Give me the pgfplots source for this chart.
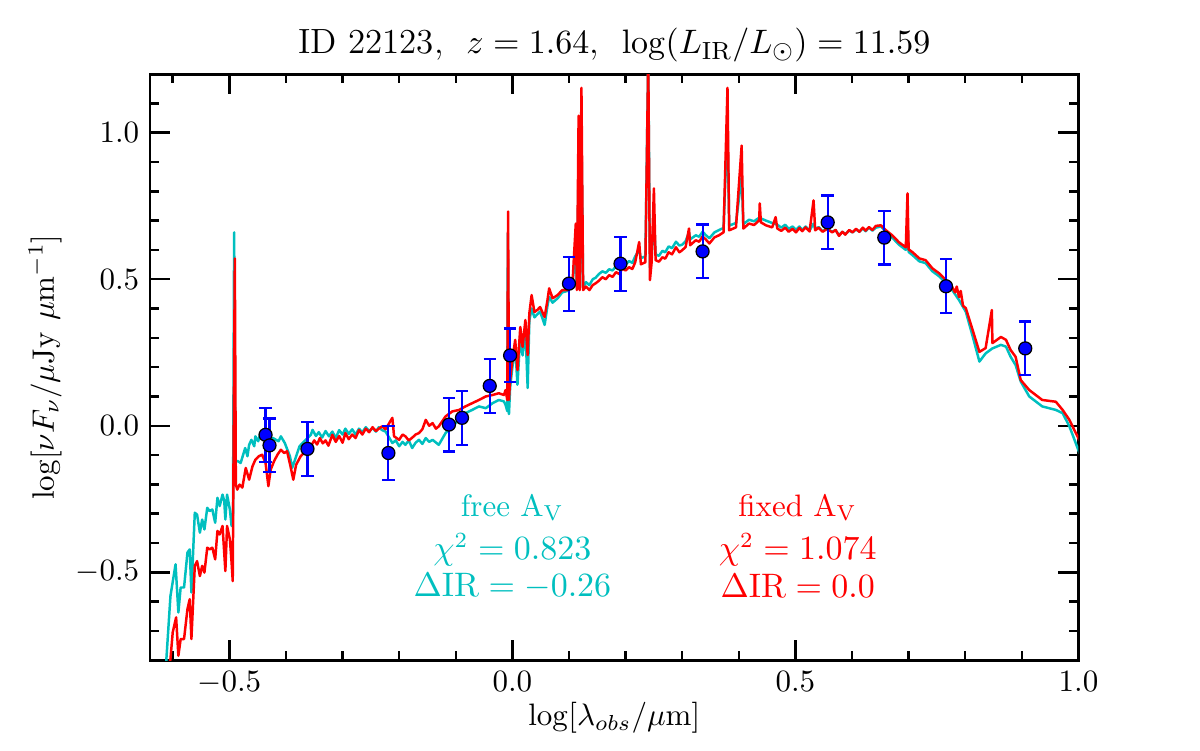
\documentclass[border=0pt]{standalone}
\usepackage{pgfplots}
\pgfplotsset{compat=1.18}
\definecolor{mplc}{rgb}{0,0.75,0.75}
\begin{document}
\begin{tikzpicture}
\useasboundingbox (0,0) rectangle (387pt,241.9pt);
\begin{axis}[
  at={(48.4pt,29pt)}, anchor=south west,
  scale only axis, width=299.4pt, height=189pt,
  xmin=-0.64, xmax=1.0, ymin=-0.8, ymax=1.2,
  xtick={-0.5,0,0.5,1}, ytick={-0.5,0,0.5,1},
  minor xtick={-0.6,-0.4,-0.3,-0.2,-0.1,0.1,0.2,0.3,0.4,0.6,0.7,0.8,0.9},
  minor ytick={-0.7,-0.6,-0.4,-0.3,-0.2,-0.1,0.1,0.2,0.3,0.4,0.6,0.7,0.8,0.9,1.1},
  tick align=inside, major tick length=6.5pt, minor tick length=3pt,
  every tick/.style={black, line width=0.8pt},
  axis line style={line width=0.9pt},
  xticklabel style={/pgf/number format/.cd, fixed, fixed zerofill, precision=1},
  yticklabel style={/pgf/number format/.cd, fixed, fixed zerofill, precision=1},
  title={ID 22123, \ $z=1.64$, \ $\log(L_{\rm IR}/L_{\odot}) = 11.59$},
  every axis title/.style={at={(axis description cs:0.5,1.049)}, anchor=center, font=\fontsize{11.3}{13.5}\selectfont},
  xlabel={$\log[\lambda_{obs}/\mu{\rm m}]$},
  xlabel style={at={(axis description cs:0.5,-0.099)}, anchor=center},
  ylabel={$\log[\nu F_\nu/\mu{\rm Jy}\ \mu{\rm m}^{-1}]$},
  ylabel style={at={(axis description cs:-0.113,0.5)}, anchor=center, font=\fontsize{10.4}{12}\selectfont},
  clip=true,
]
% free A_V (cyan)
\addplot[mplc, line width=0.8pt, line join=round] coordinates {
(-0.613,-0.85) (-0.604,-0.581) (-0.595,-0.473) (-0.590,-0.637) (-0.586,-0.552) (-0.580,-0.552)
(-0.574,-0.433) (-0.570,-0.422) (-0.567,-0.569) (-0.561,-0.297) (-0.557,-0.303) (-0.552,-0.365)
(-0.548,-0.320) (-0.544,-0.354) (-0.539,-0.280) (-0.535,-0.291) (-0.530,-0.286) (-0.525,-0.331)
(-0.521,-0.246) (-0.517,-0.274) (-0.512,-0.235) (-0.509,-0.257) (-0.507,-0.320) (-0.504,-0.235)
(-0.499,-0.286) (-0.496,-0.342) (-0.4935,-0.30) (-0.4915,0.66) (-0.4895,-0.12)
(-0.485,-0.121) (-0.480,-0.127) (-0.472,-0.076) (-0.468,-0.104) (-0.465,-0.065) (-0.461,-0.048)
(-0.456,-0.070) (-0.454,-0.036) (-0.449,-0.053) (-0.445,-0.025) (-0.436,-0.048) (-0.431,-0.065)
(-0.427,-0.070) (-0.423,-0.042) (-0.413,-0.053) (-0.409,-0.036) (-0.402,-0.059) (-0.393,-0.104)
(-0.389,-0.144) (-0.384,-0.116) (-0.376,-0.070) (-0.365,-0.048) (-0.356,-0.031) (-0.353,-0.014)
(-0.347,-0.035) (-0.342,-0.022) (-0.336,-0.040) (-0.330,-0.018) (-0.324,-0.036) (-0.318,-0.020)
(-0.312,-0.042) (-0.306,-0.015) (-0.300,-0.030) (-0.295,-0.010) (-0.289,-0.028) (-0.283,-0.012)
(-0.277,-0.030) (-0.271,-0.010) (-0.265,-0.022) (-0.259,-0.005) (-0.253,-0.018) (-0.247,-0.008)
(-0.241,-0.020) (-0.236,-0.005) (-0.230,-0.015) (-0.224,-0.020) (-0.212,-0.059)
(-0.206,-0.050) (-0.200,-0.070) (-0.194,-0.055) (-0.189,-0.065) (-0.183,-0.050) (-0.177,-0.076)
(-0.171,-0.058) (-0.165,-0.048) (-0.159,-0.062) (-0.153,-0.042) (-0.147,-0.055) (-0.141,-0.048)
(-0.130,-0.065) (-0.118,-0.025) (-0.106,0.000) (-0.094,0.020) (-0.083,0.043) (-0.071,0.054)
(-0.059,0.066) (-0.047,0.060) (-0.035,0.077) (-0.024,0.088) (-0.015,0.083) (-0.012,0.071)
(-0.009,0.050) (-0.008,0.657) (-0.006,0.04) (-0.004,0.13) (0.000,0.20) (0.005,0.27)
(0.009,0.14) (0.014,0.31) (0.018,0.24) (0.023,0.33) (0.027,0.129) (0.030,0.36) (0.034,0.40)
(0.039,0.37) (0.044,0.38) (0.049,0.39) (0.057,0.344) (0.062,0.41) (0.065,0.44) (0.071,0.42)
(0.080,0.435) (0.088,0.455) (0.097,0.46) (0.106,0.48) (0.112,0.60) (0.114,0.47) (0.117,0.90)
(0.119,0.47) (0.122,1.0) (0.125,0.47) (0.130,0.49) (0.136,0.48) (0.142,0.50) (0.147,0.505)
(0.153,0.518) (0.159,0.527) (0.165,0.522) (0.171,0.534) (0.177,0.530)
(0.183,0.544) (0.189,0.540) (0.194,0.557) (0.200,0.550) (0.206,0.562) (0.212,0.556) (0.217,0.578) (0.224,0.60) (0.227,0.572) (0.235,0.578)
(0.240,1.26) (0.243,0.54) (0.246,0.578) (0.250,0.72) (0.253,0.585) (0.259,0.580) (0.265,0.597) (0.270,0.592) (0.276,0.612)
(0.282,0.606) (0.289,0.628) (0.295,0.615) (0.300,0.618) (0.306,0.630) (0.312,0.66) (0.314,0.636) (0.324,0.650) (0.330,0.645) (0.336,0.662) (0.342,0.650) (0.348,0.640)
(0.357,0.660) (0.365,0.668) (0.373,0.675) (0.380,1.03) (0.383,0.683) (0.395,0.692) (0.405,0.85)
(0.408,0.688) (0.418,0.703) (0.427,0.698) (0.436,0.710) (0.448,0.700) (0.459,0.692)
(0.468,0.686) (0.475,0.676) (0.482,0.686) (0.488,0.672) (0.495,0.680) (0.501,0.668) (0.507,0.680)
(0.512,0.668) (0.518,0.680) (0.525,0.666) (0.532,0.690) (0.535,0.670) (0.541,0.678) (0.548,0.664)
(0.556,0.672) (0.565,0.662) (0.571,0.668) (0.577,0.650) (0.583,0.662) (0.588,0.654) (0.595,0.666)
(0.601,0.660) (0.607,0.670) (0.613,0.662) (0.619,0.674) (0.624,0.664) (0.630,0.676) (0.636,0.666)
(0.642,0.676) (0.651,0.680) (0.660,0.662)
(0.671,0.642) (0.683,0.618) (0.695,0.600) (0.698,0.70) (0.700,0.593) (0.707,0.582) (0.719,0.561)
(0.730,0.555) (0.742,0.527) (0.754,0.510) (0.766,0.487) (0.777,0.463) (0.789,0.429) (0.801,0.389)
(0.813,0.306) (0.825,0.219) (0.836,0.247) (0.848,0.264) (0.863,0.276) (0.872,0.270) (0.880,0.236)
(0.889,0.207) (0.898,0.151) (0.913,0.100) (0.936,0.066) (0.960,0.054) (0.972,0.043) (0.984,-0.002)
(1.007,-0.12)
};
% fixed A_V (red)
\addplot[red, line width=0.8pt, line join=round] coordinates {
(-0.612,-0.90) (-0.604,-0.796) (-0.600,-0.705) (-0.594,-0.654) (-0.590,-0.785) (-0.586,-0.728)
(-0.580,-0.728) (-0.574,-0.626) (-0.570,-0.592) (-0.567,-0.728) (-0.561,-0.478) (-0.557,-0.462)
(-0.552,-0.513) (-0.548,-0.478) (-0.544,-0.501) (-0.539,-0.416) (-0.535,-0.422) (-0.530,-0.416)
(-0.525,-0.456) (-0.521,-0.359) (-0.517,-0.371) (-0.512,-0.342) (-0.507,-0.496) (-0.504,-0.342)
(-0.499,-0.388) (-0.496,-0.467) (-0.494,-0.530) (-0.4903,0.571) (-0.4885,-0.20)
(-0.486,-0.218) (-0.482,-0.201) (-0.477,-0.211) (-0.471,-0.144) (-0.465,-0.184) (-0.459,-0.138)
(-0.454,-0.116) (-0.448,-0.104) (-0.442,-0.099) (-0.436,-0.127) (-0.431,-0.206) (-0.427,-0.150)
(-0.421,-0.121) (-0.415,-0.099) (-0.409,-0.082) (-0.403,-0.093) (-0.398,-0.087) (-0.392,-0.138)
(-0.387,-0.184) (-0.382,-0.133) (-0.374,-0.104) (-0.365,-0.087) (-0.356,-0.070)
(-0.350,-0.050) (-0.345,-0.064) (-0.340,-0.042) (-0.335,-0.060) (-0.330,-0.050) (-0.325,-0.068)
(-0.318,-0.031) (-0.312,-0.055) (-0.306,-0.035) (-0.300,-0.058) (-0.295,-0.025) (-0.289,-0.046)
(-0.283,-0.030) (-0.277,-0.042) (-0.271,-0.015) (-0.265,-0.030) (-0.259,-0.010) (-0.253,-0.022)
(-0.247,-0.005) (-0.241,-0.018) (-0.236,-0.010) (-0.230,-0.002) (-0.224,-0.012) (-0.212,0.027)
(-0.209,-0.036) (-0.200,-0.048) (-0.194,-0.030) (-0.189,-0.036) (-0.183,-0.050) (-0.177,-0.041)
(-0.171,-0.030) (-0.165,-0.025) (-0.159,-0.012) (-0.153,0.020) (-0.147,0.000)
(-0.141,0.009) (-0.135,-0.010) (-0.130,-0.002) (-0.124,0.015) (-0.118,0.032) (-0.106,0.049) (-0.094,0.054) (-0.083,0.066)
(-0.071,0.077) (-0.059,0.088) (-0.047,0.100) (-0.035,0.105) (-0.024,0.111) (-0.015,0.105)
(-0.012,0.122) (-0.009,0.088) (-0.0076,0.731) (-0.006,0.088) (-0.004,0.156) (0.000,0.224)
(0.005,0.293) (0.009,0.190) (0.014,0.337) (0.018,0.269) (0.023,0.361) (0.027,0.241) (0.030,0.384)
(0.034,0.446) (0.039,0.388) (0.044,0.395) (0.049,0.405) (0.057,0.371) (0.062,0.429) (0.065,0.469)
(0.071,0.435) (0.080,0.446) (0.088,0.463) (0.097,0.463) (0.106,0.480) (0.112,0.690) (0.114,0.463)
(0.117,1.058) (0.119,0.463) (0.122,1.153) (0.125,0.463) (0.130,0.475) (0.136,0.463) (0.142,0.480) (0.147,0.486)
(0.153,0.495) (0.159,0.507) (0.165,0.500) (0.171,0.514) (0.177,0.508) (0.183,0.524) (0.189,0.518) (0.194,0.537)
(0.200,0.530) (0.206,0.541) (0.212,0.535) (0.217,0.558) (0.224,0.627) (0.227,0.551)
(0.235,0.558) (0.240,1.26) (0.243,0.497) (0.246,0.558) (0.250,0.810) (0.253,0.565) (0.259,0.560) (0.265,0.575)
(0.270,0.570) (0.276,0.592) (0.282,0.585) (0.289,0.609) (0.295,0.592) (0.300,0.599) (0.306,0.610) (0.312,0.673) (0.314,0.616) (0.324,0.633)
(0.330,0.628) (0.336,0.646) (0.342,0.635)
(0.348,0.622) (0.357,0.643) (0.365,0.650) (0.373,0.660) (0.380,1.153) (0.383,0.667) (0.395,0.677)
(0.405,0.956) (0.408,0.673) (0.418,0.690) (0.427,0.685) (0.436,0.701) (0.437,0.759) (0.439,0.694) (0.448,0.684)
(0.459,0.677) (0.465,0.712)
(0.468,0.673) (0.475,0.665) (0.482,0.676) (0.488,0.662) (0.495,0.672) (0.501,0.660) (0.507,0.675)
(0.512,0.664) (0.518,0.677) (0.525,0.663) (0.532,0.769) (0.535,0.667) (0.541,0.676) (0.548,0.662)
(0.556,0.672) (0.565,0.660) (0.571,0.668) (0.577,0.648) (0.583,0.662) (0.588,0.652) (0.595,0.668)
(0.601,0.660) (0.607,0.672) (0.613,0.662) (0.619,0.676) (0.624,0.666) (0.630,0.678) (0.636,0.668)
(0.642,0.682) (0.651,0.684) (0.660,0.667) (0.671,0.650) (0.683,0.626)
(0.695,0.609) (0.698,0.793) (0.700,0.602) (0.707,0.592) (0.719,0.571) (0.730,0.565) (0.742,0.537)
(0.754,0.520) (0.766,0.497) (0.777,0.473) (0.782,0.455) (0.785,0.475) (0.789,0.439) (0.792,0.460)
(0.796,0.410) (0.801,0.401) (0.813,0.327) (0.825,0.252)
(0.836,0.265) (0.847,0.395) (0.848,0.282) (0.863,0.303) (0.872,0.293) (0.880,0.259) (0.889,0.235)
(0.898,0.156) (0.913,0.122) (0.936,0.088) (0.960,0.082) (0.972,0.054) (0.984,0.020) (1.007,-0.071)
};
% photometry
\addplot[only marks, mark=*, mark size=2.1pt, mark options={fill=blue, draw=black, line width=0.4pt},
  error bars/.cd, y dir=both, y explicit,
  error bar style={blue, line width=0.7pt},
  error mark options={blue, line width=0.7pt, mark size=2pt, rotate=90}]
coordinates {
(-0.436,-0.031) +- (0,0.092)
(-0.429,-0.067) +- (0,0.092)
(-0.362,-0.079) +- (0,0.092)
(-0.219,-0.093) +- (0,0.092)
(-0.112,0.004) +- (0,0.092)
(-0.089,0.027) +- (0,0.092)
(-0.040,0.136) +- (0,0.092)
(-0.004,0.240) +- (0,0.092)
(0.100,0.485) +- (0,0.092)
(0.191,0.553) +- (0,0.092)
(0.336,0.595) +- (0,0.092)
(0.557,0.694) +- (0,0.092)
(0.657,0.642) +- (0,0.092)
(0.766,0.476) +- (0,0.092)
(0.906,0.264) +- (0,0.092)
};
\node[mplc, anchor=center, inner sep=0pt] at (axis cs:0.0,-0.279) {free A$_{\rm V}$};
\node[mplc, anchor=center, inner sep=0pt, font=\fontsize{10.5}{12}\selectfont] at (axis cs:0.0,-0.424) {$\chi^2 = 0.823$};
\node[mplc, anchor=center, inner sep=0pt, font=\fontsize{10.5}{12}\selectfont] at (axis cs:0.0,-0.548) {$\Delta{\rm IR} = -0.26$};
\node[red, anchor=center, inner sep=0pt] at (axis cs:0.504,-0.279) {fixed A$_{\rm V}$};
\node[red, anchor=center, inner sep=0pt, font=\fontsize{10.5}{12}\selectfont] at (axis cs:0.504,-0.424) {$\chi^2 = 1.074$};
\node[red, anchor=center, inner sep=0pt, font=\fontsize{10.5}{12}\selectfont] at (axis cs:0.504,-0.548) {$\Delta{\rm IR} = 0.0$};
\end{axis}
\end{tikzpicture}
\end{document}
